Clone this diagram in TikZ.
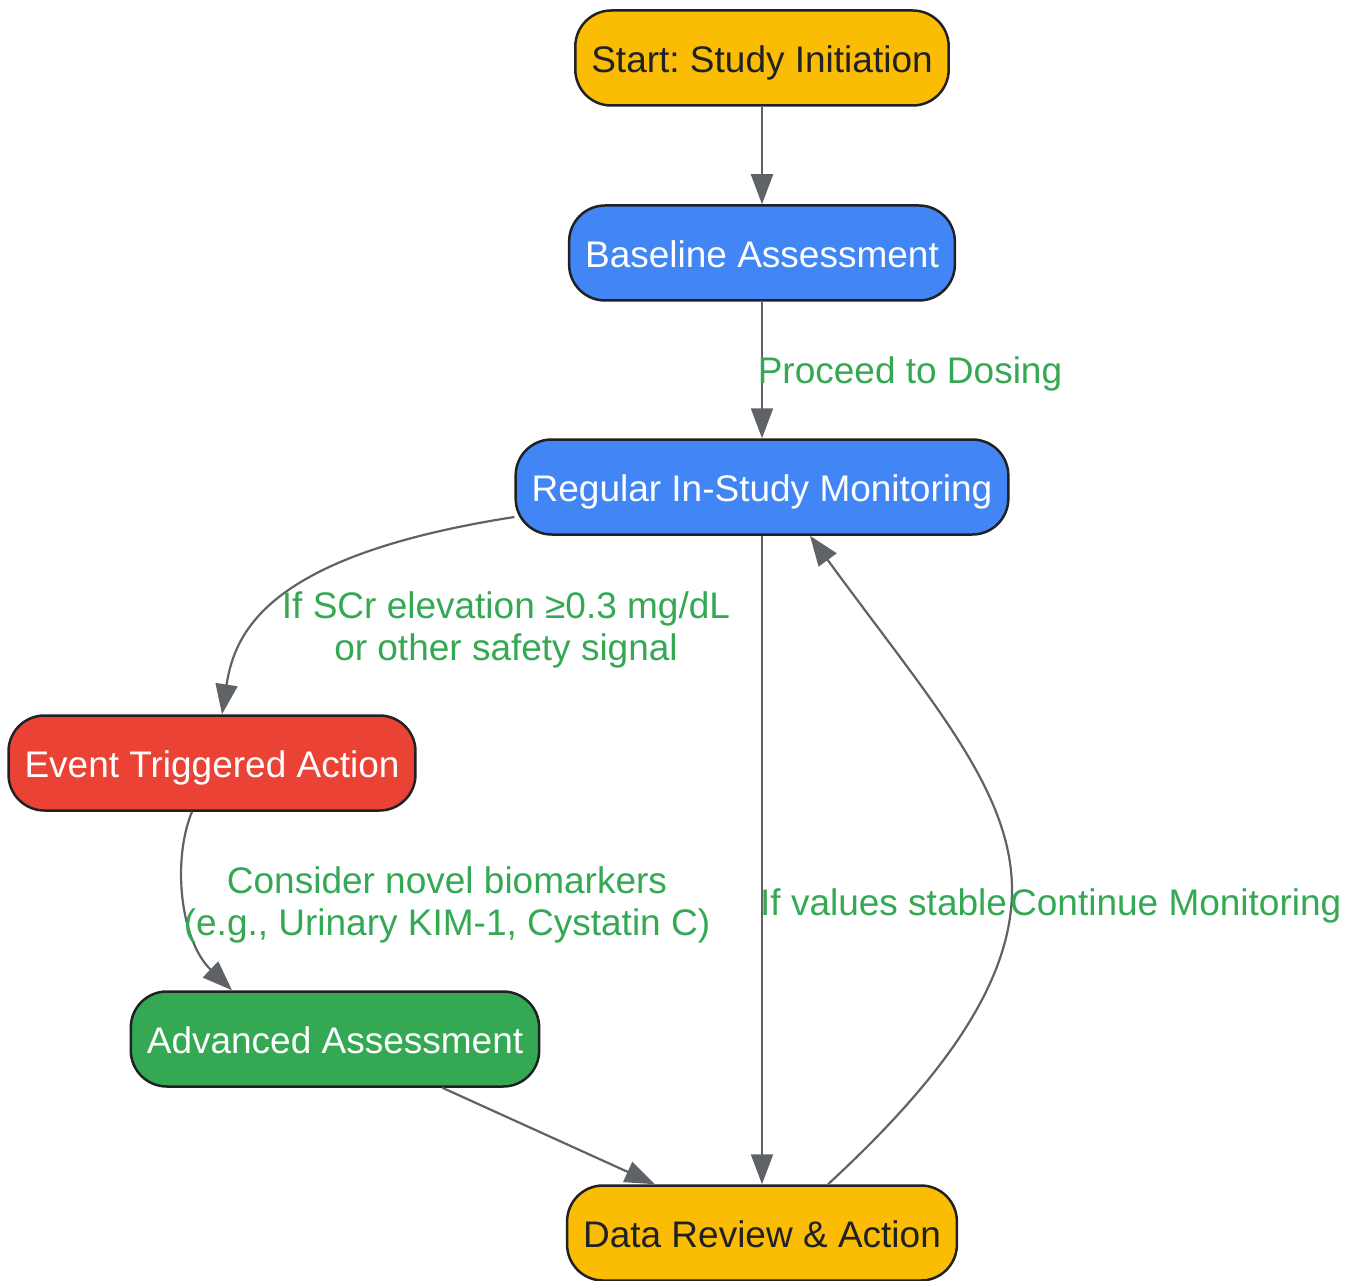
\documentclass[tikz,border=0pt]{standalone}
\usepackage{fontspec}
\setmainfont{Liberation Sans}
\usetikzlibrary{arrows.meta}
\definecolor{gyellow}{HTML}{FBBC04}
\definecolor{gblue}{HTML}{4285F4}
\definecolor{gred}{HTML}{EA4335}
\definecolor{ggreen}{HTML}{34A853}
\definecolor{ggrey}{HTML}{5F6368}
\definecolor{gdark}{HTML}{202124}
\frenchspacing
\begin{document}
\begin{tikzpicture}[x=1pt,y=-1pt,>={Triangle[length=30pt,width=22pt]},line join=round,
font=\fontsize{37}{42}\selectfont,
box/.style={draw=gdark,line width=2.5pt,rounded corners=36pt,minimum height=95pt,inner xsep=16pt,text height=36pt,text depth=7pt},
edge/.style={->,draw=ggrey,line width=2.2pt},
lbl/.style={text=ggreen,align=center},
lblone/.style={lbl,text height=27pt,text depth=8pt}]
\useasboundingbox (0,0) rectangle (1355,1281);
% nodes
\node[box,fill=gyellow,text=gdark] (start) at (762,58) {Start: Study Initiation};
\node[box,fill=gblue,text=white] (base) at (762,253) {Baseline Assessment};
\node[box,fill=gblue,text=white] (mon) at (762,487) {Regular In-Study Monitoring};
\node[box,fill=gred,text=white] (event) at (212,763) {Event Triggered Action};
\node[box,fill=ggreen,text=white] (adv) at (335,1039) {Advanced Assessment};
\node[box,fill=gyellow,text=gdark] (review) at (762,1233) {Data Review \& Action};
% edges
\draw[edge] (start)--(base);
\draw[edge] (base)--(mon);
\draw[edge] ([yshift=-30pt]mon.west) .. controls (270,555) and (235,630) .. ([xshift=10pt]event.north);
\draw[edge] ([xshift=-20pt]event.south) .. controls (172,860) and (180,940) .. ([xshift=-103pt]adv.north);
\draw[edge] (mon)--(review);
\draw[edge] (adv)--(review);
\draw[edge] ([xshift=66pt]review.north) .. controls (930,1090) and (1012,990) .. (1012,890)
  .. controls (1012,790) and (930,700) .. ([xshift=48pt]mon.south);
% labels
\node[lblone] (l1) at (910,374) {Proceed to Dosing};
\node[lbl] (l2) at (506,630) {If SCr elevation ≥0.3 mg/dL\\or other safety signal};
\node[lbl] (l3) at (447,905) {Consider novel biomarkers\\(e.g., Urinary KIM-1, Cystatin C)};
\node[lblone,anchor=west,inner xsep=0pt] (l4) at (760,906) {If values stable};
\node[lblone,anchor=west,inner xsep=0pt] (l5) at (1010,906) {Continue Monitoring};
\end{tikzpicture}
\end{document}
